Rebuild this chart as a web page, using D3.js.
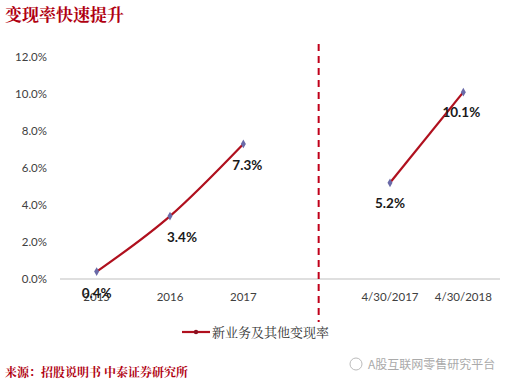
<!DOCTYPE html>
<html>
<head>
<meta charset="utf-8">
<script src="https://cdn.jsdelivr.net/npm/d3@7"></script>
<style>
  body { margin: 0; background: #fff; }
  svg { display: block; font-family: Lato, "Open Sans", sans-serif; }
</style>
</head>
<body>
<svg id="chart" width="516" height="389"></svg>
<script>
// 变现率 — 年度 + 截至4/30 两段
const categories = ["2015", "2016", "2017", "", "4/30/2017", "4/30/2018"];
const annualValues = [0.004, 0.034, 0.073];
const periodValues = [0.052, 0.101];
const yTicks = [0, 0.02, 0.04, 0.06, 0.08, 0.10, 0.12];
const seriesName = "新业务及其他变现率";

const svg = d3.select("#chart");
const margin = { left: 60, right: 16, top: 57, bottom: 110 };
const W = +svg.attr("width");
const H = +svg.attr("height");

const x = d3.scaleBand().domain(categories).range([margin.left, W - margin.right]);
const y = d3.scaleLinear().domain([0, 0.12]).range([H - margin.bottom, margin.top]);
const cx = c => x(c) + x.bandwidth() / 2;

const red = "#b0101e";

// 标题
svg.append("text")
  .attr("x", 5).attr("y", 21)
  .style("font-family", "'Noto Serif CJK SC', 'Noto Sans CJK SC', serif")
  .style("font-size", "17px").style("font-weight", "bold")
  .attr("fill", "#b00010")
  .text("变现率快速提升");

// Y 轴刻度
svg.append("g")
  .selectAll("text")
  .data(yTicks)
  .join("text")
  .attr("x", 47).attr("y", d => y(d) + 4)
  .attr("text-anchor", "end")
  .style("font-size", "11.5px").attr("fill", "#404040")
  .text(d => d3.format(".1%")(d));

// X 轴
svg.append("line")
  .attr("x1", margin.left).attr("x2", W - margin.right)
  .attr("y1", y(0)).attr("y2", y(0))
  .attr("stroke", "#bfbfbf").attr("stroke-width", 1);

svg.append("g")
  .selectAll("text")
  .data(categories.filter(c => c !== ""))
  .join("text")
  .attr("x", d => cx(d)).attr("y", y(0) + 22)
  .attr("text-anchor", "middle")
  .style("font-size", "11.5px").attr("fill", "#404040")
  .text(d => d);

// 分隔虚线
svg.append("line")
  .attr("x1", cx("") + 2).attr("x2", cx("") + 2)
  .attr("y1", 44).attr("y2", 322)
  .attr("stroke", "#c0001a").attr("stroke-width", 2)
  .attr("stroke-dasharray", "7,5");

// 折线
const line = d3.line().x(d => d.x).y(d => d.y).curve(d3.curveMonotoneX);
const seg1 = annualValues.map((v, i) => ({ x: cx(categories[i]), y: y(v), v }));
const seg2 = periodValues.map((v, i) => ({ x: cx(categories[i + 4]), y: y(v), v }));

[seg1, seg2].forEach(seg => {
  svg.append("path")
    .attr("d", line(seg))
    .attr("fill", "none")
    .attr("stroke", red).attr("stroke-width", 2.2);
  svg.append("g")
    .selectAll("path")
    .data(seg)
    .join("path")
    .attr("d", d3.symbol(d3.symbolDiamond, 22))
    .attr("transform", d => `translate(${d.x},${d.y})`)
    .attr("fill", "#6a6aa8");
});

// 数据标签
const labelOffsets = [[0, 26], [12, 26], [4, 26], [0, 25], [-2, 25]];
seg1.concat(seg2).forEach((d, i) => {
  svg.append("text")
    .attr("x", d.x + labelOffsets[i][0]).attr("y", d.y + labelOffsets[i][1])
    .attr("text-anchor", "middle")
    .style("font-size", "13.5px").style("font-weight", "bold")
    .attr("fill", "#1a1a1a")
    .text(d3.format(".1%")(d.v));
});

// 图例
const ly = 332;
svg.append("line")
  .attr("x1", 182).attr("x2", 210).attr("y1", ly).attr("y2", ly)
  .attr("stroke", red).attr("stroke-width", 2.2);
svg.append("circle")
  .attr("cx", 196).attr("cy", ly).attr("r", 2.2)
  .attr("fill", "#8a1020");
svg.append("text")
  .attr("x", 212).attr("y", ly + 5)
  .style("font-family", "'Noto Serif CJK SC', 'Noto Sans CJK SC', serif")
  .style("font-size", "13px").attr("fill", "#333")
  .text(seriesName);

// 来源
svg.append("text")
  .attr("x", 5).attr("y", 377)
  .style("font-family", "'Noto Serif CJK SC', 'Noto Sans CJK SC', serif")
  .style("font-size", "12px").style("font-weight", "bold")
  .attr("fill", "#b00010")
  .text("来源：招股说明书  中泰证券研究所");

// 水印
svg.append("circle").attr("cx", 356).attr("cy", 364).attr("r", 6)
  .attr("fill", "none").attr("stroke", "#bbb").attr("stroke-width", 1);
svg.append("text")
  .attr("x", 368).attr("y", 369)
  .style("font-family", "'Noto Sans CJK SC', sans-serif")
  .style("font-size", "12px").attr("fill", "#aaa")
  .text("A股互联网零售研究平台");
</script>
</body>
</html>
